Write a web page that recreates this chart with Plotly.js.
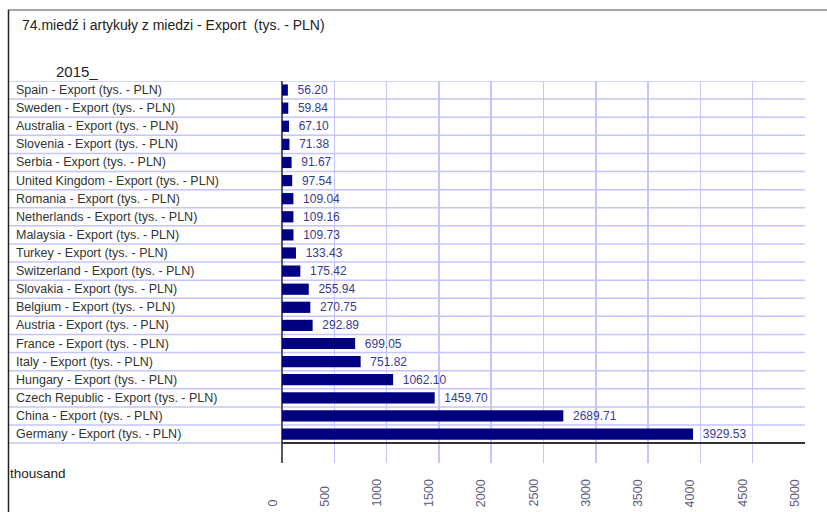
<!DOCTYPE html>
<html>
<head>
<meta charset="utf-8">
<script src="https://cdn.plot.ly/plotly-3.0.1.min.js"></script>
<style>html,body{margin:0;padding:0;background:#fff;}#chart{width:827px;height:512px;}</style>
</head>
<body>
<div id="chart"></div>
<script>
// ---- data ----
const countries = ["Spain","Sweden","Australia","Slovenia","Serbia","United Kingdom","Romania","Netherlands","Malaysia","Turkey","Switzerland","Slovakia","Belgium","Austria","France","Italy","Hungary","Czech Republic","China","Germany"];
const values = [56.20,59.84,67.10,71.38,91.67,97.54,109.04,109.16,109.73,133.43,175.42,255.94,270.75,292.89,699.05,751.82,1062.10,1459.70,2689.71,3929.53];
const categoryLabels = countries.map(c => c + " - Export (tys. - PLN)");
const tickValues = [0,500,1000,1500,2000,2500,3000,3500,4000,4500,5000];
const tickLabels = ["0","500","1000","1500","2000","2500","3000","3500","4000","4500","5000"];
const titleText = "74.miedź i artykuły z miedzi - Export  (tys. - PLN)";
const subtitleText = "2015_";
const unitText = "thousand";

// ---- layout helpers ----
const W = 827, H = 512;
const mL = 272, mR = 22, mT = 81, mB = 49;
const pw = W - mL - mR, ph = H - mT - mB;
const px2paper = px => (px - mL) / pw;
const py2paper = py => 1 - (py - mT) / ph;
const FONT = "'Liberation Sans', Arial, sans-serif";
const labelShift = 95.6;
const xMax = tickValues[tickValues.length - 1];

const shapes = [];
for (let i = 0; i <= categoryLabels.length; i++) {
  shapes.push({type:'line', xref:'paper', yref:'y', x0:px2paper(8), x1:1, y0:i-0.5, y1:i-0.5,
    line:{color:'#c4c4ff', width:1.5}, layer:'below'});
}
shapes.push({type:'line', xref:'x', yref:'y', x0:0, x1:xMax, y0:categoryLabels.length-0.5, y1:categoryLabels.length-0.5,
  line:{color:'#333333', width:2}, layer:'above'});
// frame
shapes.push({type:'line', xref:'paper', yref:'paper', x0:px2paper(8), x1:px2paper(W), y0:py2paper(10), y1:py2paper(10), line:{color:'#888888', width:1.5}});
shapes.push({type:'line', xref:'paper', yref:'paper', x0:px2paper(8.5), x1:px2paper(8.5), y0:py2paper(10), y1:py2paper(H), line:{color:'#222222', width:1.5}});

const annotations = categoryLabels.map((t, i) => ({
  xref:'paper', yref:'y', x:px2paper(14), y:i, xanchor:'left', yanchor:'middle',
  text:t, showarrow:false, font:{family:FONT, size:12.5, color:'#333333'}
}));
tickValues.forEach((v, i) => {
  annotations.push({xref:'x', yref:'paper', x:v, xshift:-10, y:py2paper(509), xanchor:'center', yanchor:'bottom',
    textangle:-90, text:tickLabels[i], showarrow:false, font:{family:FONT, size:12.5, color:'#5a5a80'}});
});
annotations.push({xref:'paper', yref:'paper', x:px2paper(54), y:py2paper(71), xanchor:'left', yanchor:'middle',
  text:subtitleText, showarrow:false, font:{family:FONT, size:15, color:'#222222'}});
annotations.push({xref:'paper', yref:'paper', x:px2paper(8), y:py2paper(473), xanchor:'left', yanchor:'middle',
  text:unitText, showarrow:false, font:{family:FONT, size:13.5, color:'#222222'}});

const trace = {
  type:'bar', orientation:'h', y:categoryLabels, x:values,
  marker:{color:'#000080', line:{width:0}}, width:0.62,
  text:values.map(v => v.toFixed(2)), texttemplate:'  %{text}',
  textposition:'outside', cliponaxis:false, constraintext:'none',
  textfont:{family:FONT, size:12, color:'#3a3a8c'},
  hoverinfo:'none'
};

const layout = {
  width:W, height:H,
  margin:{l:mL, r:mR, t:mT, b:mB, pad:0},
  paper_bgcolor:'#ffffff', plot_bgcolor:'#ffffff',
  showlegend:false,
  title:{text:titleText, xref:'container', yref:'container', x:22/W, xanchor:'left', y:1-25/H, yanchor:'middle',
    font:{family:FONT, size:14, color:'#222222'}},
  xaxis:{range:[-labelShift, xMax], tickmode:'array', tickvals:tickValues, showticklabels:false,
    showgrid:true, gridcolor:'#c4c4ff', gridwidth:1.5, zeroline:true, zerolinecolor:'#555566', zerolinewidth:2,
    showline:false, ticks:'', fixedrange:true},
  yaxis:{type:'category', range:[categoryLabels.length + 0.6, -0.5], showticklabels:false, showgrid:false, zeroline:false,
    showline:false, ticks:''},
  bargap:0.38,
  shapes:shapes,
  annotations:annotations
};

Plotly.newPlot('chart', [trace], layout, {displayModeBar:false, staticPlot:true});
</script>
</body>
</html>
